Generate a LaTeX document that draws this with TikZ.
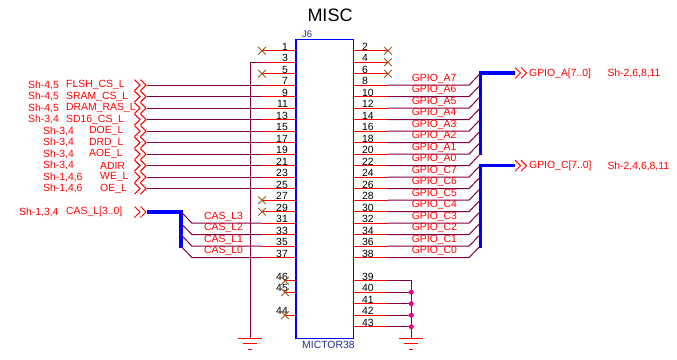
\documentclass[tikz,border=0pt]{standalone}
\usepackage{fontspec}
\setmainfont{Liberation Sans}
\usetikzlibrary{calc,positioning}
\definecolor{wirecol}{RGB}{128,0,72}
\definecolor{nccol}{RGB}{150,90,30}
\definecolor{partcol}{RGB}{40,40,150}
\tikzset{
  pinline/.style={red,line width=1.1pt},
  wire/.style={wirecol,line width=1pt},
  bus/.style={blue,line width=3.4pt},
  pinnum/.style={inner sep=0pt,text=black,font=\fontsize{10.4}{12}\selectfont},
  siglabel/.style={inner sep=0pt,text=red,font=\fontsize{10.4}{12}\selectfont},
  offpage/.pic={\draw[red,line width=1pt] (-12,-5.5) -- (-6.5,0) -- (-12,5.5) (-6,-5.5) -- (-.5,0) -- (-6,5.5);},
  offpager/.pic={\draw[red,line width=1pt] (0,-5.5) -- (5.5,0) -- (0,5.5) (6,-5.5) -- (11.5,0) -- (6,5.5);},
  gndsym/.pic={\draw[red,line width=1pt] (-12,0) -- (12,0) (-7,5) -- (7,5) (-2,10.5) -- (2,10.5);},
  ncmark/.pic={\draw[nccol,line width=.8pt] (-3.8,-3.8) -- (3.8,3.8) (-3.8,3.8) -- (3.8,-3.8);}
}
\begin{document}
\begin{tikzpicture}
[
x=1pt, y=-1pt
]
\useasboundingbox (0,0) rectangle (677,359);

% title and connector body
\node[inner sep=0pt,font=\fontsize{18}{20}\selectfont] (title) at (330,15) {MISC};
\node[draw=blue,line width=1.1pt,minimum width=57.5pt,minimum height=299.5pt,inner sep=0pt] (body) at (324.75,189) {};
\node[inner sep=0pt,anchor=west,text=partcol,font=\fontsize{9.5}{11}\selectfont] (refdes) at (302,34.5) {J6};
\node[inner sep=0pt,anchor=west,text=partcol,font=\fontsize{10.4}{12}\selectfont] (partname) at (302,345) {MICTOR38};

% left pins
\foreach \pin/\row in {1/0,3/1,5/2,7/3,9/4,11/5,13/6,15/7,17/8,19/9,21/10,23/11,25/12,27/13,29/14,31/15,33/16,35/17,37/18}
{
  \coordinate (pin\pin) at (296,50.7+11.5*\row);
  \coordinate (end\pin) at (262,50.7+11.5*\row);
  \draw[pinline] (pin\pin) -- (end\pin);
  \node[pinnum,anchor=east] (num\pin) at (288,46.7+11.5*\row) {\pin};
}
\foreach \pin/\row in {46/20,45/21,44/23}
{
  \coordinate (pin\pin) at (296,50.7+11.5*\row);
  \coordinate (end\pin) at (285,50.7+11.5*\row);
  \draw[pinline] (pin\pin) -- (end\pin);
  \node[pinnum,anchor=east] (num\pin) at (288,46.7+11.5*\row) {\pin};
  \path (end\pin) pic {ncmark};
}

% right pins
\foreach \pin/\row in {2/0,4/1,6/2,8/3,10/4,12/5,14/6,16/7,18/8,20/9,22/10,24/11,26/12,28/13,30/14,32/15,34/16,36/17,38/18,39/20,40/21,41/22,42/23,43/24}
{
  \coordinate (pin\pin) at (353.5,50.7+11.5*\row);
  \coordinate (end\pin) at (388,50.7+11.5*\row);
  \draw[pinline] (pin\pin) -- (end\pin);
  \node[pinnum,anchor=west] (num\pin) at (362,46.7+11.5*\row) {\pin};
}

% no connects
\foreach \pin in {1,5,27,29,2,4,6}
  \path (end\pin) pic {ncmark};

% single signals
\foreach \pin/\sheet/\signal/\xsheet/\xsignal in {
  7/{Sh-4,5}/{FLSH\_CS\_L}/28/66,
  9/{Sh-4,5}/{SRAM\_CS\_L}/28/66,
  11/{Sh-4,5}/{DRAM\_RAS\_L}/28/66,
  13/{Sh-3,4}/{SD16\_CS\_L}/28/66,
  15/{Sh-3,4}/{DOE\_L}/43/89,
  17/{Sh-3,4}/{DRD\_L}/43/89,
  19/{Sh-3,4}/{AOE\_L}/43/89,
  21/{Sh-3,4}/{ADIR}/43/100,
  23/{Sh-1,4,6}/{WE\_L}/43/100,
  25/{Sh-1,4,6}/{OE\_L}/43/100}
{
  \path (end\pin) ++(-115.5,0) coordinate (off\pin) pic {offpage};
  \draw[wire] (off\pin) -- (end\pin);
  \node[siglabel,anchor=west] (sheet\pin) at (\xsheet,0 |- end\pin) {\sheet};
  \node[siglabel,anchor=west] (sig\pin) at (\xsignal,0 |- end\pin) {\signal};
}

% CAS bus
\coordinate (casoff) at (146.5,212);
\coordinate (cascorner) at (181,212);
\coordinate (casend) at (181,247.5);
\path (casoff) pic {offpage};
\draw[bus] (casoff) -- (cascorner) -- (casend);
\node[siglabel,anchor=west] (cassheet) at (19,212) {Sh-1,3,4};
\node[siglabel,anchor=west] (casname) at (66,212) {CAS\_L[3..0]};
\foreach \pin/\signal in {31/CAS\_L3,33/CAS\_L2,35/CAS\_L1,37/CAS\_L0}
{
  \draw[wire] (end\pin) -- ++(-70,0) -- ++(-11,-11.5);
  \path (end\pin) ++(-58,-6.7) node[siglabel,anchor=west] (sig\pin) {\signal};
}

% GPIO buses
\coordinate (gpaoff) at (515,73);
\coordinate (gpacorner) at (480.5,73);
\coordinate (gpaend) at (480.5,155);
\path (gpaoff) pic {offpager};
\draw[bus] (gpaoff) -- (gpacorner) -- (gpaend);
\node[siglabel,anchor=west] (gpaname) at (529,73.5) {GPIO\_A[7..0]};
\node[siglabel,anchor=west] (gpasheet) at (607.3,73.5) {Sh-2,6,8,11};

\coordinate (gpcoff) at (515,165.7);
\coordinate (gpccorner) at (480.5,165.7);
\coordinate (gpcend) at (480.5,247.5);
\path (gpcoff) pic {offpager};
\draw[bus] (gpcoff) -- (gpccorner) -- (gpcend);
\node[siglabel,anchor=west] (gpcname) at (529,166) {GPIO\_C[7..0]};
\node[siglabel,anchor=west] (gpcsheet) at (607.3,166) {Sh-2,4,6,8,11};

\foreach \pin/\signal in {8/GPIO\_A7,10/GPIO\_A6,12/GPIO\_A5,14/GPIO\_A4,16/GPIO\_A3,18/GPIO\_A2,20/GPIO\_A1,22/GPIO\_A0,24/GPIO\_C7,26/GPIO\_C6,28/GPIO\_C5,30/GPIO\_C4,32/GPIO\_C3,34/GPIO\_C2,36/GPIO\_C1,38/GPIO\_C0}
{
  \draw[wire] (end\pin) -- ++(81,0) -- ++(11,-11.5);
  \path (end\pin) ++(23.7,-6.7) node[siglabel,anchor=west] (sig\pin) {\signal};
}

% grounds
\coordinate (gndl) at (250,338.5);
\coordinate (gndr) at (411.3,338.5);
\draw[wire] (end3) -- (end3 -| gndl) -- (gndl);
\path (gndl) pic {gndsym};
\draw[wire] (end39) -- (end39 -| gndr) -- (gndr);
\path (gndr) pic {gndsym};
\foreach \pin in {40,41,42,43}
{
  \draw[wire] (end\pin) -- (end\pin -| gndr);
  \fill[magenta] (end\pin -| gndr) circle (2.5);
}

\end{tikzpicture}
\end{document}
